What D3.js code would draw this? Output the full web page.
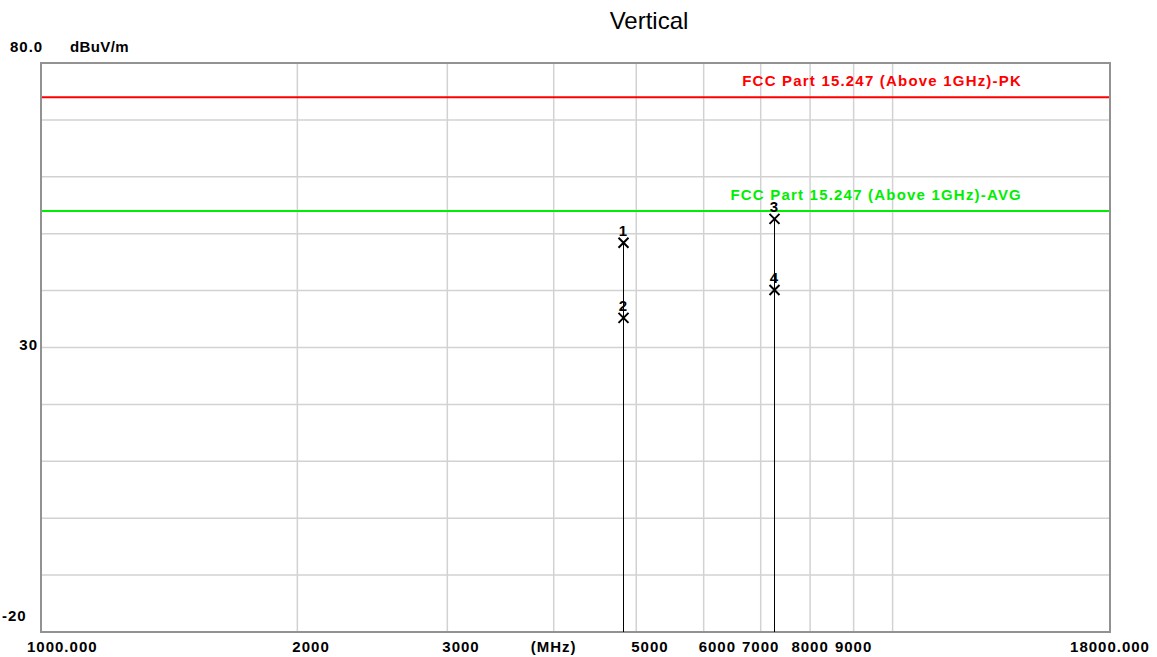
<!doctype html>
<html>
<head>
<style>
  body { margin: 0; background: #fff; }
  .lbl { font-family: "Liberation Sans", Arial, sans-serif; font-weight: bold; font-size: 15px; letter-spacing: 1px; fill: #000; }
  .lim { font-family: "Liberation Sans", Arial, sans-serif; font-weight: bold; font-size: 15px; letter-spacing: 1.2px; }
</style>
<script src="https://d3js.org/d3.v7.min.js"></script>
</head>
<body>
<svg id="chart" width="1157" height="657"></svg>
<script>
// data
var markerIds   = ["1", "2", "3", "4"];
var markerFreq  = [4830, 4830, 7260, 7260];      // MHz
var markerLevel = [48.4, 35.2, 52.6, 40.1];      // dBuV/m

var limitNames  = ["FCC Part 15.247 (Above 1GHz)-PK", "FCC Part 15.247 (Above 1GHz)-AVG"];
var limitLevel  = [74, 54];
var limitColor  = ["#ff0000", "#00ee00"];

var xGrid   = [2000, 3000, 4000, 5000, 6000, 7000, 8000, 9000, 10000];
var xLabelV = [1000, 2000, 3000, 4000, 5000, 6000, 7000, 8000, 9000, 18000];
var xLabelT = ["1000.000", "2000", "3000", "(MHz)", "5000", "6000", "7000", "8000", "9000", "18000.000"];
var yGrid   = [-10, 0, 10, 20, 30, 40, 50, 60, 70];
var yLabelV = [80, 30, -20];
var yLabelT = ["80.0", "30", "-20"];

var svg = d3.select("#chart");
var pLeft = 41, pRight = 1110, pTop = 63, pBottom = 632;

var x = d3.scaleLog().domain([1000, 18000]).range([pLeft, pRight]);
var y = d3.scaleLinear().domain([-20, 80]).range([pBottom, pTop]);

svg.append("text")
   .attr("x", 649).attr("y", 29)
   .attr("text-anchor", "middle")
   .style("font-family", "Liberation Sans, Arial, sans-serif")
   .style("font-size", "24px")
   .text("Vertical");

// grid
svg.selectAll(".vg").data(xGrid).enter().append("line")
   .attr("x1", function(d) { return x(d); }).attr("x2", function(d) { return x(d); })
   .attr("y1", pTop).attr("y2", pBottom)
   .attr("stroke", "#d2d2d2").attr("stroke-width", 1.5);
svg.selectAll(".hg").data(yGrid).enter().append("line")
   .attr("x1", pLeft).attr("x2", pRight)
   .attr("y1", function(d) { return y(d); }).attr("y2", function(d) { return y(d); })
   .attr("stroke", "#d2d2d2").attr("stroke-width", 1.5);

// frame
svg.append("rect")
   .attr("x", pLeft).attr("y", pTop)
   .attr("width", pRight - pLeft).attr("height", pBottom - pTop)
   .attr("fill", "none").attr("stroke", "#929292").attr("stroke-width", 2);

// limit lines
limitLevel.forEach(function(v, i) {
    svg.append("line")
       .attr("x1", pLeft + 1).attr("x2", pRight - 1)
       .attr("y1", y(v)).attr("y2", y(v))
       .attr("stroke", limitColor[i]).attr("stroke-width", 2);
    svg.append("text")
       .attr("class", "lim")
       .attr("x", 1022).attr("y", y(v) - 11)
       .attr("text-anchor", "end")
       .attr("fill", limitColor[i])
       .text(limitNames[i]);
});

// markers
markerIds.forEach(function(id, i) {
    var mx = Math.round(x(markerFreq[i])) + 0.5, my = y(markerLevel[i]);
    svg.append("line")
       .attr("x1", mx).attr("x2", mx)
       .attr("y1", my).attr("y2", pBottom)
       .attr("stroke", "#000").attr("stroke-width", 1);
    svg.append("path")
       .attr("d", "M" + (mx - 5) + "," + (my - 5) + "L" + (mx + 5) + "," + (my + 5) +
                  "M" + (mx + 5) + "," + (my - 5) + "L" + (mx - 5) + "," + (my + 5))
       .attr("stroke", "#000").attr("stroke-width", 2).attr("fill", "none");
    svg.append("text")
       .attr("class", "lbl")
       .attr("x", mx).attr("y", my - 7)
       .attr("text-anchor", "middle")
       .text(id);
});

// y labels
yLabelV.forEach(function(v, i) {
    var t = svg.append("text").attr("class", "lbl").text(yLabelT[i]);
    if (i == 0) {
        t.attr("x", 10).attr("y", 52);
    } else if (i == yLabelV.length - 1) {
        t.attr("x", 2).attr("y", y(v) - 11);
    } else {
        t.attr("x", 38).attr("y", y(v) + 2).attr("text-anchor", "end");
    }
});
svg.append("text").attr("class", "lbl").attr("x", 70).attr("y", 52)
   .style("letter-spacing", "0.4px").text("dBuV/m");

// x labels
xLabelV.forEach(function(v, i) {
    var t = svg.append("text").attr("class", "lbl").attr("y", 652).text(xLabelT[i]);
    if (i == 0) {
        t.attr("x", x(v) - 14);
    } else if (i == xLabelV.length - 1 || v == 4000 || v >= 7000) {
        t.attr("x", x(v)).attr("text-anchor", "middle");
    } else {
        t.attr("x", x(v) - 5);
    }
});
</script>
</body>
</html>
